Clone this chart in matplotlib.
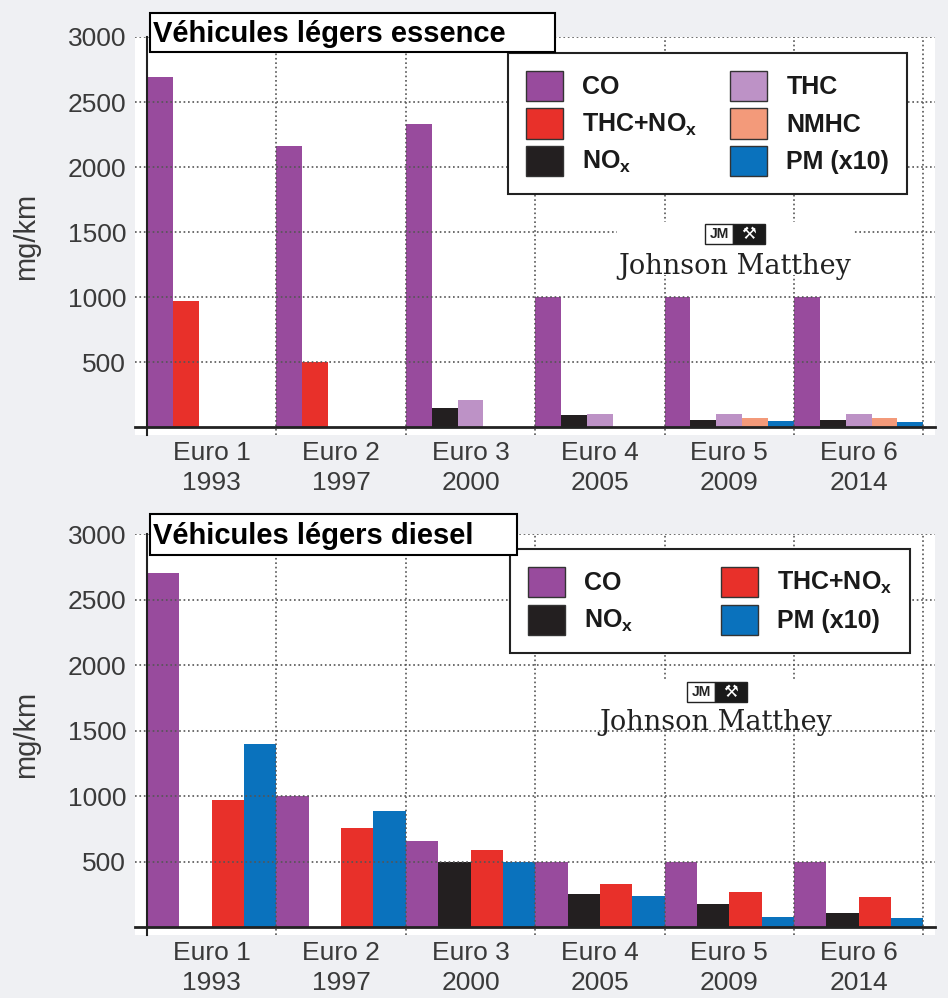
import matplotlib.pyplot as plt
from matplotlib.patches import Patch, Rectangle
import numpy as np

plt.rcParams['font.family'] = ['Liberation Sans', 'DejaVu Sans']
plt.rcParams['mathtext.fontset'] = 'custom'
plt.rcParams['mathtext.rm'] = 'Liberation Sans:bold'
plt.rcParams['mathtext.it'] = 'Liberation Sans:bold'
plt.rcParams['mathtext.bf'] = 'Liberation Sans:bold'

stages = ["Euro 1\n1993", "Euro 2\n1997", "Euro 3\n2000", "Euro 4\n2005", "Euro 5\n2009", "Euro 6\n2014"]

# essence (petrol), mg/km
ess_co = [2690, 2160, 2330, 1000, 1000, 1000]
ess_thc_nox = [970, 500, 0, 0, 0, 0]
ess_nox = [0, 0, 150, 90, 55, 55]
ess_thc = [0, 0, 210, 100, 100, 100]
ess_nmhc = [0, 0, 0, 0, 68, 68]
ess_pm = [0, 0, 0, 0, 50, 40]

# diesel, mg/km
die_co = [2700, 1000, 660, 500, 500, 500]
die_nox = [0, 0, 500, 250, 180, 105]
die_thc_nox = [970, 760, 590, 330, 265, 230]
die_pm = [1400, 890, 500, 240, 80, 70]

c_co = '#984b9d'
c_thcnox = '#e8302a'
c_nox = '#231f20'
c_thc = '#bd92c6'
c_nmhc = '#f39a7a'
c_pm = '#0a72bd'

lab_co = 'CO'
lab_thcnox = r'THC+NO$_\mathrm{x}$'
lab_nox = r'NO$_\mathrm{x}$'
lab_thc = 'THC'
lab_nmhc = 'NMHC'
lab_pm = 'PM (x10)'

W, H = 948, 998
def fx(px):
    return px / W
def fy(py):
    return 1 - py / H

fig = plt.figure(figsize=(9.48, 9.98), dpi=100, facecolor='#eff0f3')
ax1 = fig.add_axes([fx(135), fy(435), fx(935) - fx(135), fy(37) - fy(435)])
ax2 = fig.add_axes([fx(135), fy(935), fx(935) - fx(135), fy(534) - fy(935)])

x = np.arange(len(stages))


def setup(ax):
    ax.set_facecolor('white')
    ax.set_xlim(-0.093, 6.09)
    ax.set_ylim(-60, 3000)
    ax.spines['top'].set_visible(False)
    ax.spines['right'].set_visible(False)
    ax.spines['left'].set_position(('data', 0))
    ax.spines['bottom'].set_position(('data', 0))
    ax.spines['left'].set_linewidth(1.5)
    ax.spines['bottom'].set_linewidth(2)
    ax.spines['left'].set_color('#222222')
    ax.spines['bottom'].set_color('#222222')
    ax.set_yticks([500, 1000, 1500, 2000, 2500, 3000])
    ax.set_xticks(x + 0.5)
    ax.set_xticklabels(stages, linespacing=1.3)
    ax.set_xticks(np.arange(1, 7), minor=True)
    ax.tick_params(axis='y', length=0, pad=15, labelsize=19, labelcolor='#3a3a3a')
    ax.tick_params(axis='x', which='major', length=0, pad=10, labelsize=19, labelcolor='#3a3a3a')
    ax.tick_params(axis='x', which='minor', length=0)
    ax.grid(axis='y', which='major', linestyle=':', color='#555555', linewidth=1.2)
    ax.grid(axis='x', which='minor', linestyle=':', color='#555555', linewidth=1.2)
    ax.set_ylabel('mg/km', fontsize=21, color='#3a3a3a')
    ax.yaxis.set_label_coords(-0.119, 0.5)


def logo(ax, cx, cy, jx, jy):
    # white block behind the logo, hides the grid
    ax.add_patch(Rectangle((fx(cx - 118), fy(cy + 8)), fx(236), (cy + 8 - jy + 12) / H,
                           transform=fig.transFigure, facecolor='white', edgecolor='none', zorder=2))
    ax.add_patch(Rectangle((fx(jx), fy(jy + 10)), fx(28), 20 / H, transform=fig.transFigure,
                           facecolor='white', edgecolor='#222222', linewidth=1, zorder=3))
    ax.add_patch(Rectangle((fx(jx + 28), fy(jy + 10)), fx(32), 20 / H, transform=fig.transFigure,
                           facecolor='#1a1a1a', edgecolor='#222222', linewidth=1, zorder=3))
    ax.text(fx(jx + 14), fy(jy), 'JM', transform=fig.transFigure, ha='center', va='center',
            fontsize=10, fontweight='bold', family='Liberation Sans', color='#222222', zorder=4)
    ax.text(fx(jx + 44), fy(jy), '\u2692', transform=fig.transFigure, ha='center', va='center',
            fontsize=12, family='DejaVu Sans', color='white', zorder=4)
    ax.text(fx(cx), fy(cy), 'Johnson Matthey', transform=fig.transFigure, ha='center', va='center',
            fontsize=19.5, family='DejaVu Serif', color='#222222', zorder=4)


def title_box(x0, y0, x1, y1, txt):
    fig.add_artist(Rectangle((fx(x0), fy(y1)), fx(x1 - x0), (y1 - y0) / H, transform=fig.transFigure,
                             facecolor='white', edgecolor='black', linewidth=1.5, zorder=10))
    fig.text(fx(x0 + 3), fy((y0 + y1) / 2 + 1), txt, ha='left', va='center', fontsize=21,
             fontweight='bold', family='Liberation Sans', color='black', zorder=11)


# ---- top: essence ----
setup(ax1)
w = 0.2
ax1.bar(x, ess_co, width=w, align='edge', color=c_co, linewidth=0)
ax1.bar(x + w, ess_thc_nox, width=w, align='edge', color=c_thcnox, linewidth=0)
ax1.bar(x + w, ess_nox, width=w, align='edge', color=c_nox, linewidth=0)
ax1.bar(x + 2 * w, ess_thc, width=w, align='edge', color=c_thc, linewidth=0)
ax1.bar(x + 3 * w, ess_nmhc, width=w, align='edge', color=c_nmhc, linewidth=0)
ax1.bar(x + 4 * w, ess_pm, width=w, align='edge', color=c_pm, linewidth=0)

h1 = [Patch(facecolor=c, edgecolor='#333333', linewidth=1, label=l) for c, l in
      [(c_co, lab_co), (c_thcnox, lab_thcnox), (c_nox, lab_nox),
       (c_thc, lab_thc), (c_nmhc, lab_nmhc), (c_pm, lab_pm)]]
leg1 = ax1.legend(handles=h1, loc='upper left', bbox_to_anchor=(fx(508), fy(53)),
                  bbox_transform=fig.transFigure, borderaxespad=0, ncol=2,
                  prop={'family': 'Liberation Sans', 'weight': 'bold', 'size': 18},
                  handlelength=1.5, handleheight=1.5, handletextpad=0.76, labelspacing=0.28,
                  columnspacing=1.3, borderpad=0.7, fancybox=False, framealpha=1)
leg1.get_frame().set_edgecolor('#222222')
leg1.get_frame().set_linewidth(1.5)
for t in leg1.get_texts():
    t.set_color('#1a1a1a')

logo(ax1, 735, 267, 705, 234)
title_box(150, 13, 555, 52, 'Véhicules légers essence')

# ---- bottom: diesel ----
setup(ax2)
w = 0.25
ax2.bar(x, die_co, width=w, align='edge', color=c_co, linewidth=0)
ax2.bar(x + w, die_nox, width=w, align='edge', color=c_nox, linewidth=0)
ax2.bar(x + 2 * w, die_thc_nox, width=w, align='edge', color=c_thcnox, linewidth=0)
ax2.bar(x + 3 * w, die_pm, width=w, align='edge', color=c_pm, linewidth=0)

h2 = [Patch(facecolor=c, edgecolor='#333333', linewidth=1, label=l) for c, l in
      [(c_co, lab_co), (c_nox, lab_nox), (c_thcnox, lab_thcnox), (c_pm, lab_pm)]]
leg2 = ax2.legend(handles=h2, loc='upper left', bbox_to_anchor=(fx(510), fy(549)),
                  bbox_transform=fig.transFigure, borderaxespad=0, ncol=2,
                  prop={'family': 'Liberation Sans', 'weight': 'bold', 'size': 18},
                  handlelength=1.5, handleheight=1.5, handletextpad=0.76, labelspacing=0.3,
                  columnspacing=3.5, borderpad=0.7, fancybox=False, framealpha=1)
leg2.get_frame().set_edgecolor('#222222')
leg2.get_frame().set_linewidth(1.5)
for t in leg2.get_texts():
    t.set_color('#1a1a1a')

logo(ax2, 716, 722, 687, 692)
title_box(150, 514, 517, 555, 'Véhicules légers diesel')

fig.savefig('out.png', dpi=100, facecolor=fig.get_facecolor())
